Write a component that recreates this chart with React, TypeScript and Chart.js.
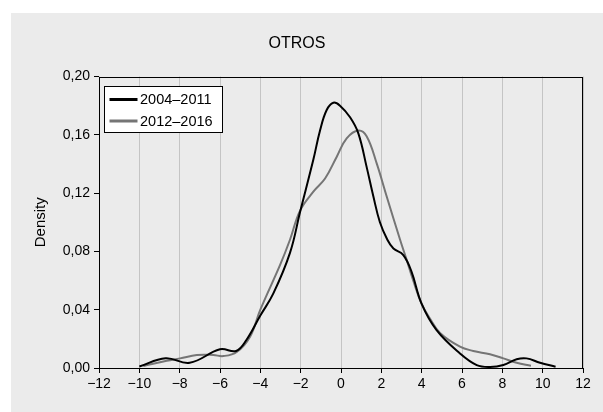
import React, { useEffect, useRef } from "react";
import { Chart, registerables } from "chart.js";

Chart.register(...registerables);

const TITLE = "OTROS";
const Y_LABEL = "Density";
const SERIES_LABELS = ["2004–2011", "2012–2016"];

const blackX = [-10.0, -8.7, -7.5, -6.0, -5.2, -4.7, -4.0, -3.36, -2.53, -2.03, -1.37, -1.04, -0.71, -0.38, -0.05, 0.45, 0.86, 1.27, 1.6, 1.93, 2.3, 2.6, 3.09, 3.5, 4.0, 4.74, 5.9, 6.73, 7.39, 8.05, 8.71, 9.2, 9.87, 10.64];
const blackY = [0.001, 0.0067, 0.0036, 0.0128, 0.0117, 0.019, 0.036, 0.051, 0.079, 0.107, 0.143, 0.163, 0.177, 0.182, 0.18, 0.172, 0.161, 0.138, 0.118, 0.1, 0.088, 0.082, 0.0775, 0.066, 0.044, 0.026, 0.01, 0.002, 0.0007, 0.002, 0.006, 0.0066, 0.0036, 0.0009];

const greyX = [-9.8, -8.64, -7.98, -7.15, -6.33, -5.83, -5.17, -4.51, -4.0, -3.02, -2.53, -2.03, -1.37, -0.79, -0.21, 0.28, 0.86, 1.27, 1.77, 2.27, 2.93, 3.26, 3.58, 4.0, 4.41, 4.91, 5.9, 6.56, 7.39, 8.05, 8.71, 9.42];
const greyY = [0.0014, 0.005, 0.0066, 0.0089, 0.0089, 0.0082, 0.011, 0.0215, 0.04, 0.0707, 0.088, 0.108, 0.121, 0.13, 0.145, 0.1576, 0.163, 0.159, 0.1404, 0.1175, 0.088, 0.074, 0.06, 0.044, 0.034, 0.024, 0.0146, 0.0117, 0.0094, 0.0066, 0.0036, 0.0016];

const FONT = '"Liberation Sans", Arial, Helvetica, sans-serif';
const COLORS = ["#000000", "#757575"];

const boxAndLegend = {
  id: "boxAndLegend",
  afterDraw(chart: any) {
    const { ctx, chartArea } = chart;
    const { left, top, right, bottom } = chartArea;
    ctx.save();
    ctx.strokeStyle = "#000";
    ctx.lineWidth = 1;
    ctx.strokeRect(Math.round(left) + 0.5, Math.round(top) + 0.5, Math.round(right - left) - 1, Math.round(bottom - top) - 1);

    // legend
    const bx = Math.round(left) + 5.5;
    const by = Math.round(top) + 9.5;
    const bw = 118;
    const bh = 46;
    ctx.fillStyle = "#fff";
    ctx.fillRect(bx, by, bw, bh);
    ctx.strokeRect(bx, by, bw, bh);
    ctx.font = `14.5px ${FONT}`;
    ctx.textBaseline = "middle";
    chart.data.datasets.forEach((ds: any, i: number) => {
      const y = by + 13 + i * 21.5;
      ctx.strokeStyle = ds.borderColor;
      ctx.lineWidth = 3;
      ctx.beginPath();
      ctx.moveTo(bx + 5, y);
      ctx.lineTo(bx + 33, y);
      ctx.stroke();
      ctx.fillStyle = "#000";
      ctx.fillText(ds.label, bx + 35.5, y + 0.5);
    });
    ctx.restore();
  },
};

export default function App() {
  const ref = useRef<HTMLCanvasElement | null>(null);
  useEffect(() => {
    if (!ref.current) return;
    Chart.defaults.font.family = FONT;
    const chart = new Chart(ref.current, {
      type: "line",
      data: {
        datasets: [
          {
            label: SERIES_LABELS[0],
            data: blackX.map((x, i) => ({ x, y: blackY[i] })),
            borderColor: COLORS[0],
            borderWidth: 2,
            pointRadius: 0,
            tension: 0.4,
            fill: false,
          },
          {
            label: SERIES_LABELS[1],
            data: greyX.map((x, i) => ({ x, y: greyY[i] })),
            borderColor: COLORS[1],
            borderWidth: 2,
            pointRadius: 0,
            tension: 0.4,
            fill: false,
          },
        ],
      },
      options: {
        animation: false,
        responsive: false,
        layout: { padding: { left: 0, right: 20, top: 0, bottom: 0 } },
        plugins: {
          legend: { display: false },
          tooltip: { enabled: false },
          title: {
            display: true,
            text: TITLE,
            color: "#000",
            font: { size: 16, weight: "normal" },
            padding: { top: 21, bottom: 23.3 },
          },
        },
        scales: {
          x: {
            type: "linear",
            min: -12,
            max: 12,
            border: { display: false },
            grid: { color: "#c4c4c4", tickColor: "#000", tickLength: 5, lineWidth: 1 },
            ticks: {
              stepSize: 2,
              color: "#000",
              font: { size: 14 },
              padding: 3,
              maxRotation: 0,
              callback: (v: any) => String(v).replace("-", "−"),
            },
            afterFit: (s: any) => {
              s.height = 44;
            },
          },
          y: {
            type: "linear",
            min: 0,
            max: 0.2,
            border: { display: false },
            grid: { drawOnChartArea: false, tickColor: "#000", tickLength: 5 },
            ticks: {
              stepSize: 0.04,
              color: "#000",
              font: { size: 14 },
              padding: 4,
              callback: (v: any) => Number(v).toFixed(2).replace(".", ","),
            },
            title: {
              display: true,
              text: Y_LABEL,
              color: "#000",
              font: { size: 15 },
              padding: { top: 21, bottom: 0 },
            },
            afterFit: (s: any) => {
              s.width = 88;
            },
          },
        },
      },
      plugins: [boxAndLegend],
    });
    return () => chart.destroy();
  }, []);
  return (
    <div style={{ position: "absolute", left: 11, top: 13, width: 592, height: 399, background: "#ebebeb" }}>
      <canvas ref={ref} width={592} height={399} style={{ display: "block", width: 592, height: 399 }} />
    </div>
  );
}
